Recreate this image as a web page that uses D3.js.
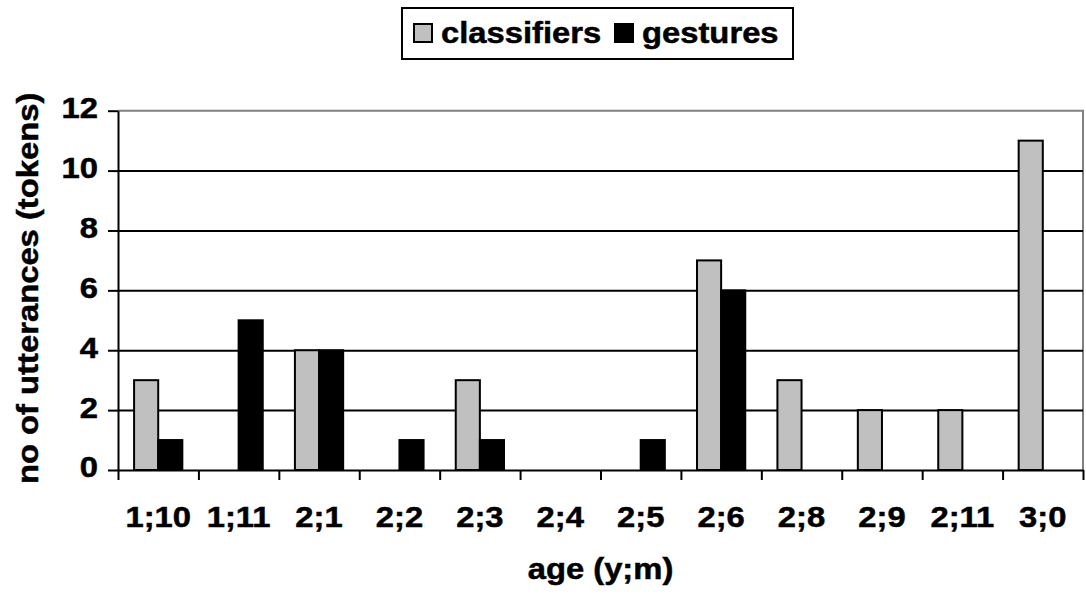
<!DOCTYPE html>
<html>
<head>
<meta charset="utf-8">
<script src="https://cdn.jsdelivr.net/npm/d3@7"></script>
<style>
  body { margin: 0; background: #fff; }
  text { font-family: "Liberation Sans", Arial, sans-serif; font-weight: bold; fill: #000; stroke: #000; stroke-width: 0.5px; }
</style>
</head>
<body>
<div id="chart"></div>
<script>
const ages = ['1;10', '1;11', '2;1', '2;2', '2;3', '2;4', '2;5', '2;6', '2;8', '2;9', '2;11', '3;0']
const classifiers = [3, 0, 4, 0, 3, 0, 0, 7, 3, 2, 2, 11]
const gestures = [1, 5, 4, 1, 1, 0, 1, 6, 0, 0, 0, 0]
const seriesNames = ['classifiers', 'gestures']
const yTicks = [0, 2, 4, 6, 8, 10, 12]

const width = 1086
const height = 597
const plotLeft = 118
const plotRight = 1083
const plotTop = 110.7
const plotBottom = 470
const fontSize = 29
const stretch = 1.13 // the source font runs wider than Arial
const colors = { classifiers: '#c0c0c0', gestures: '#000' }

const svg = d3.select('#chart').append('svg').attr('width', width).attr('height', height)

const x0 = d3.scaleBand().domain(ages).range([plotLeft, plotRight]).paddingInner(0.4).paddingOuter(0.2)
const x1 = d3.scaleBand().domain(seriesNames).range([0, x0.bandwidth()])
const y = d3.scaleLinear().domain([0, 12]).range([plotBottom, plotTop])
// boundaries between the categories, for the tick marks
const xEdge = d3.scaleLinear().domain([0, ages.length]).range([plotLeft, plotRight])

// plot border (gray, top and right)
svg.append('path')
  .attr('d', `M${plotLeft},${y(12)} H${plotRight} V${plotBottom}`)
  .attr('fill', 'none').attr('stroke', '#808080').attr('stroke-width', 2)

// gridlines
svg.append('g')
  .attr('transform', `translate(${plotLeft},0)`)
  .call(d3.axisLeft(y).tickValues([2, 4, 6, 8, 10]).tickSize(-(plotRight - plotLeft)).tickFormat(''))
  .call((g) => g.select('.domain').remove())
  .selectAll('line').attr('stroke', '#000').attr('stroke-width', 2)

// bars
const rows = ages.map((a, i) => ({ age: a, classifiers: classifiers[i], gestures: gestures[i] }))
svg.append('g')
  .selectAll('g')
  .data(rows)
  .join('g')
  .attr('transform', (d) => `translate(${x0(d.age)},0)`)
  .selectAll('rect')
  .data((d) => seriesNames.map((k) => ({ key: k, value: d[k] })).filter((v) => v.value > 0))
  .join('rect')
  .attr('x', (d) => x1(d.key))
  .attr('y', (d) => y(d.value))
  .attr('width', x1.bandwidth())
  .attr('height', (d) => y(0) - y(d.value))
  .attr('fill', (d) => colors[d.key])
  .attr('stroke', '#000')
  .attr('stroke-width', 2)

// y axis
const yAxis = svg.append('g')
  .attr('transform', `translate(${plotLeft},0)`)
  .call(d3.axisLeft(y).tickValues(yTicks).tickSize(10).tickSizeOuter(0))
yAxis.select('.domain').attr('stroke', '#000').attr('stroke-width', 2)
yAxis.selectAll('line').attr('stroke', '#000').attr('stroke-width', 2)
yAxis.selectAll('text')
  .attr('x', -20 / stretch)
  .attr('dy', '0.24em')
  .attr('transform', `scale(${stretch},1)`)
  .style('font-size', fontSize + 'px')

// x axis: tick marks at category edges
const xTicks = svg.append('g')
  .attr('transform', `translate(0,${plotBottom})`)
  .call(d3.axisBottom(xEdge).tickValues(d3.range(ages.length + 1)).tickSize(10).tickSizeOuter(0).tickFormat(''))
xTicks.select('.domain').attr('stroke', '#000').attr('stroke-width', 2)
xTicks.selectAll('line').attr('stroke', '#000').attr('stroke-width', 2)

// x axis: labels at category centres
const xLabels = svg.append('g')
  .attr('transform', `translate(0,${plotBottom})`)
  .call(d3.axisBottom(x0).tickSize(0))
xLabels.select('.domain').remove()
xLabels.selectAll('text')
  .attr('y', 57)
  .attr('dy', 0)
  .attr('transform', `scale(${stretch},1)`)
  .style('font-size', fontSize + 'px')

// axis titles
svg.append('text')
  .attr('transform', `translate(${(plotLeft + plotRight) / 2},579) scale(${stretch},1)`)
  .attr('text-anchor', 'middle')
  .style('font-size', fontSize + 'px')
  .text('age (y;m)')

svg.append('text')
  .attr('transform', `translate(38,${(plotTop + plotBottom) / 2 - 2}) rotate(-90) scale(${stretch},1)`)
  .attr('text-anchor', 'middle')
  .style('font-size', fontSize + 'px')
  .text('no of utterances (tokens)')

// legend
const legend = svg.append('g')
legend.append('rect')
  .attr('x', 402).attr('y', 8).attr('width', 391).attr('height', 51)
  .attr('fill', '#fff').attr('stroke', '#000').attr('stroke-width', 2)

const legendX = [414, 615]
seriesNames.forEach((name, i) => {
  legend.append('rect')
    .attr('x', legendX[i]).attr('y', 24).attr('width', 18).attr('height', 18)
    .attr('fill', colors[name]).attr('stroke', '#000').attr('stroke-width', 2)
  legend.append('text')
    .attr('transform', `translate(${legendX[i] + 27},43) scale(${stretch},1)`)
    .style('font-size', fontSize + 'px')
    .text(name)
})
</script>
</body>
</html>
